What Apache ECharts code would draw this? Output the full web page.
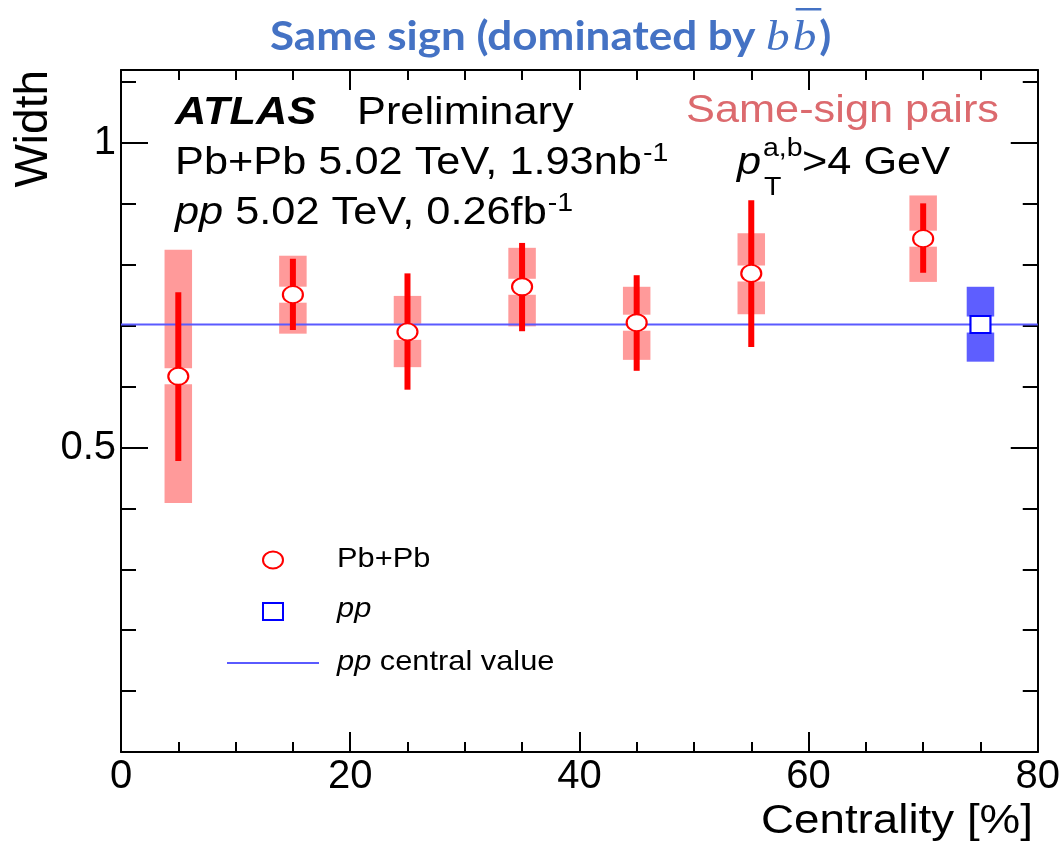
<!DOCTYPE html>
<html><head><meta charset="utf-8">
<script src="https://cdn.jsdelivr.net/npm/echarts@6/dist/echarts.min.js"></script>
<style>html,body{margin:0;padding:0;background:#fff}#c{width:1063px;height:844px}</style>
</head><body><div id="c"></div>
<script>
// ---- data ----
const centrality = [5, 15, 25, 35, 45, 55, 70];
const widthPbPb  = [0.617, 0.751, 0.690, 0.764, 0.705, 0.786, 0.843];
const statLow    = [0.478, 0.693, 0.595, 0.691, 0.626, 0.665, 0.787];
const statHigh   = [0.755, 0.810, 0.786, 0.836, 0.783, 0.906, 0.901];
const sysLow     = [0.409, 0.687, 0.632, 0.699, 0.644, 0.719, 0.772];
const sysHigh    = [0.825, 0.815, 0.749, 0.828, 0.764, 0.852, 0.914];
const ppCentrality = [75];
const widthPP   = [0.702];
const ppSysLow  = [0.641];
const ppSysHigh = [0.764];
const ppCentralValue = 0.702;
const xRange = [0, 80];
const yRange = [0, 1.12];
const yLabelValues = [0.5, 1];
const binHalfWidth = 1.2;

const SANS = "'Liberation Sans', Arial, Helvetica, sans-serif";
const TITLEF = "Lato, 'Open Sans', sans-serif";
const SERIF = "'Liberation Serif', 'DejaVu Serif', serif";
const K = {sans: 0.3465, lato: 0.387, serif: 0.3375};
const chart = echarts.init(document.getElementById('c'));

// text measuring helper for placing multi-style text runs
const mctx = document.createElement('canvas').getContext('2d');
function measure(t, s) {
  mctx.font = (s.fontStyle || 'normal') + ' ' + (s.fontWeight || 'normal') + ' ' + s.fontSize + 'px ' + s.fontFamily;
  return mctx.measureText(t).width;
}
function textRun(x, baseline, parts, sx) {
  const out = []; let cx = x; const pos = [];
  for (const p of parts) {
    const st = Object.assign({text: p.text, align: 'left', verticalAlign: 'middle'}, p.style);
    const w = measure(p.text, p.style) * sx;
    out.push({type: 'text', x: cx, y: baseline + (p.dy || 0) - p.k * p.style.fontSize, scaleX: sx, style: st, silent: true});
    pos.push([cx, w]);
    cx += w + (p.gapAfter || 0);
  }
  return {els: out, pos: pos, end: cx};
}

function sysBoxRender(color) {
  return function (params, api) {
    const x = api.value(0), yc = api.value(1), lo = api.value(2), hi = api.value(3);
    const pTL = api.coord([x - binHalfWidth, hi]);
    const pBR = api.coord([x + binHalfWidth, lo]);
    const pc = api.coord([x, yc]);
    const gap = 8;
    const w = pBR[0] - pTL[0];
    const children = [];
    if (pc[1] - gap > pTL[1]) children.push({type: 'rect', shape: {x: pTL[0], y: pTL[1], width: w, height: pc[1] - gap - pTL[1]}, style: {fill: color}});
    if (pBR[1] > pc[1] + gap) children.push({type: 'rect', shape: {x: pTL[0], y: pc[1] + gap, width: w, height: pBR[1] - pc[1] - gap}, style: {fill: color}});
    return {type: 'group', children};
  };
}
function statRender(params, api) {
  const x = api.value(0);
  const p1 = api.coord([x, api.value(1)]);
  const p2 = api.coord([x, api.value(2)]);
  return {type: 'line', shape: {x1: p1[0], y1: p1[1], x2: p2[0], y2: p2[1]}, style: {stroke: '#ff0000', lineWidth: 6}};
}

function xAx(pos, showLabel) {
  return {
    type: 'value', position: pos, min: xRange[0], max: xRange[1], interval: 20,
    axisLine: {show: true, onZero: false, lineStyle: {color: '#000', width: 2}},
    axisTick: {show: true, inside: true, length: 20, lineStyle: {color: '#000', width: 2}},
    minorTick: {show: true, splitNumber: 4, length: 10, lineStyle: {color: '#000', width: 2}},
    splitLine: {show: false}, minorSplitLine: {show: false},
    axisLabel: {show: showLabel, fontSize: 40, fontFamily: SANS, color: '#000', margin: 5}
  };
}
function yAx(pos, interval, len, showLine, showLabel) {
  return {
    type: 'value', position: pos, min: yRange[0], max: yRange[1], interval: interval,
    axisLine: {show: showLine, onZero: false, lineStyle: {color: '#000', width: 2}},
    axisTick: {show: true, inside: true, length: len, lineStyle: {color: '#000', width: 2}},
    splitLine: {show: false},
    axisLabel: {
      show: showLabel, fontSize: 40, fontFamily: SANS, color: '#000', margin: 5,
      formatter: function (v) {
        for (const t of yLabelValues) if (Math.abs(v - t) < 1e-6) return String(t);
        return '';
      }
    }
  };
}

// ---- text blocks ----
const BLUE = '#4472C4';
const tMain = {fontFamily: TITLEF, fontWeight: 'bold', fontSize: 40, fill: BLUE};
const tB = {fontFamily: SERIF, fontStyle: 'italic', fontSize: 43, fill: BLUE};
const title = textRun(270, 53, [
  {text: 'Same sign (dominated by ', style: tMain, k: K.lato},
  {text: 'b', style: tB, k: K.serif, gapAfter: 3},
  {text: 'b', style: tB, k: K.serif, gapAfter: 3},
  {text: ')', style: tMain, k: K.lato}
], 1.1);
const ob = title.pos[2];
const overline = {type: 'rect', shape: {x: ob[0] + 3, y: 8, width: ob[1] + 2, height: 2.5}, style: {fill: BLUE}, silent: true};

const SX = 1.14;
const n38 = {fontFamily: SANS, fontSize: 38, fill: '#000'};
const i38 = {fontFamily: SANS, fontSize: 38, fontStyle: 'italic', fill: '#000'};
const s25 = {fontFamily: SANS, fontSize: 25, fill: '#000'};
const line1a = textRun(175, 127, [{text: 'ATLAS', style: {fontFamily: SANS, fontSize: 38, fontWeight: 'bold', fontStyle: 'italic', fill: '#000'}, k: K.sans}], SX);
const line1b = textRun(357, 127, [{text: 'Preliminary', style: n38, k: K.sans}], SX);
const line1c = textRun(686, 125, [{text: 'Same-sign pairs', style: {fontFamily: SANS, fontSize: 38, fill: '#dc6a6e'}, k: K.sans}], SX);
const line2 = textRun(175, 177, [
  {text: 'Pb+Pb 5.02 TeV, 1.93nb', style: n38, k: K.sans, gapAfter: 1},
  {text: '-1', style: s25, k: K.sans, dy: -14}
], SX);
const line3 = textRun(175, 227, [
  {text: 'pp', style: i38, k: K.sans},
  {text: ' 5.02 TeV, 0.26fb', style: n38, k: K.sans, gapAfter: 1},
  {text: '-1', style: s25, k: K.sans, dy: -14}
], SX);
const ptP = textRun(737, 177, [{text: 'p', style: i38, k: K.sans}], SX);
const ptSup = textRun(763, 158, [{text: 'a,b', style: s25, k: K.sans}], SX);
const ptSub = textRun(764, 197, [{text: 'T', style: s25, k: K.sans}], SX);
const ptRest = textRun(802, 177, [{text: '>4 GeV', style: n38, k: K.sans}], SX);

const LX = 1.1;
const l27 = {fontFamily: SANS, fontSize: 28, fill: '#000'};
const l27i = {fontFamily: SANS, fontSize: 28, fontStyle: 'italic', fill: '#000'};
const leg1 = textRun(337, 569, [{text: 'Pb+Pb', style: l27, k: K.sans}], LX);
const leg2 = textRun(337, 619, [{text: 'pp', style: l27i, k: K.sans}], LX);
const leg3 = textRun(337, 672, [{text: 'pp', style: l27i, k: K.sans}, {text: ' central value', style: l27, k: K.sans}], LX);
const xNameStyle = {fontFamily: SANS, fontSize: 41, fill: '#000'};
const xNameScale = 272 / measure('Centrality [%]', xNameStyle);
const xName = textRun(761, 836, [{text: 'Centrality [%]', style: xNameStyle, k: K.sans}], xNameScale);

const graphics = [].concat(
  title.els, [overline],
  line1a.els, line1b.els, line1c.els, line2.els, line3.els,
  ptP.els, ptSup.els, ptSub.els, ptRest.els,
  leg1.els, leg2.els, leg3.els, xName.els,
  [
    {type: 'text', x: 34, y: 70, rotation: Math.PI / 2, silent: true,
     style: {text: 'Width', fontSize: 46, fontFamily: SANS, fill: '#000', align: 'right', verticalAlign: 'middle'}},
    {type: 'ellipse', shape: {cx: 273, cy: 560, rx: 10, ry: 8.5}, style: {fill: '#fff', stroke: '#ff0000', lineWidth: 2}, silent: true},
    {type: 'rect', shape: {x: 263, y: 603, width: 20, height: 17}, style: {fill: '#fff', stroke: '#0000ff', lineWidth: 2}, silent: true},
    {type: 'line', shape: {x1: 227, y1: 663, x2: 319, y2: 663}, style: {stroke: '#5a5aff', lineWidth: 2}, silent: true}
  ]
);

const option = {
  backgroundColor: '#fff',
  animation: false,
  grid: {left: 121, right: 25, top: 70, bottom: 92, containLabel: false},
  xAxis: [xAx('bottom', true), xAx('top', false)],
  yAxis: [
    yAx('left', 0.1, 15, true, true),
    yAx('left', 0.5, 27, false, false),
    yAx('right', 0.1, 15, true, false),
    yAx('right', 0.5, 27, false, false)
  ],
  series: [
    {
      name: 'PbPb sys', type: 'custom', z: 1, xAxisIndex: 0, yAxisIndex: 0,
      renderItem: sysBoxRender('#ff9a9a'),
      data: centrality.map((c, i) => [c, widthPbPb[i], sysLow[i], sysHigh[i]])
    },
    {
      name: 'pp sys', type: 'custom', z: 1, xAxisIndex: 0, yAxisIndex: 0,
      renderItem: sysBoxRender('#5e5eff'),
      data: ppCentrality.map((c, i) => [c, widthPP[i], ppSysLow[i], ppSysHigh[i]])
    },
    {
      name: 'pp central value', type: 'line', z: 2, xAxisIndex: 0, yAxisIndex: 0,
      symbol: 'none', lineStyle: {color: '#5a5aff', width: 2},
      data: [[xRange[0], ppCentralValue], [xRange[1], ppCentralValue]]
    },
    {
      name: 'PbPb stat', type: 'custom', z: 3, xAxisIndex: 0, yAxisIndex: 0,
      renderItem: statRender,
      data: centrality.map((c, i) => [c, statLow[i], statHigh[i]])
    },
    {
      name: 'Pb+Pb', type: 'scatter', z: 4, xAxisIndex: 0, yAxisIndex: 0,
      symbol: 'circle', symbolSize: [20, 17],
      itemStyle: {color: '#fff', borderColor: '#ff0000', borderWidth: 2, opacity: 1},
      data: centrality.map((c, i) => [c, widthPbPb[i]])
    },
    {
      name: 'pp', type: 'scatter', z: 4, xAxisIndex: 0, yAxisIndex: 0,
      symbol: 'rect', symbolSize: [20, 17],
      itemStyle: {color: '#fff', borderColor: '#0000ff', borderWidth: 2, opacity: 1},
      data: ppCentrality.map((c, i) => [c, widthPP[i]])
    }
  ],
  graphic: graphics
};
chart.setOption(option);
</script>
</body></html>
